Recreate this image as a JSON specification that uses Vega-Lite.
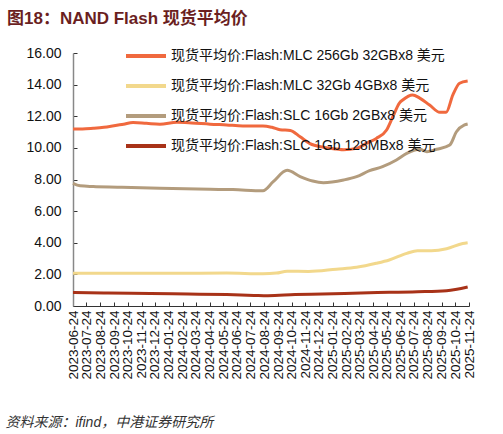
{
  "$schema": "https://vega.github.io/schema/vega-lite/v6.json",
  "width": 396,
  "height": 253,
  "autosize": {"type": "none"},
  "padding": {"left": 73, "top": 53, "right": 34, "bottom": 128},
  "background": "white",
  "config": {
    "view": {"stroke": null},
    "font": "Liberation Sans, Noto Sans CJK SC"
  },
  "title": {
    "text": "图18：NAND Flash 现货平均价",
    "anchor": "start",
    "frame": "group",
    "dx": -66,
    "dy": 17,
    "offset": 10,
    "baseline": "alphabetic",
    "fontSize": 17,
    "fontWeight": "bold",
    "color": "#6B1F1F",
    "font": "Liberation Sans, Noto Sans CJK SC"
  },
  "data": {"values": [
    {"date": "2023-06-24", "s": "现货平均价:Flash:MLC 256Gb 32GBx8 美元", "v": 11.2},
    {"date": "2023-07-15", "s": "现货平均价:Flash:MLC 256Gb 32GBx8 美元", "v": 11.2},
    {"date": "2023-08-08", "s": "现货平均价:Flash:MLC 256Gb 32GBx8 美元", "v": 11.24},
    {"date": "2023-09-01", "s": "现货平均价:Flash:MLC 256Gb 32GBx8 美元", "v": 11.3},
    {"date": "2023-09-20", "s": "现货平均价:Flash:MLC 256Gb 32GBx8 美元", "v": 11.38},
    {"date": "2023-10-15", "s": "现货平均价:Flash:MLC 256Gb 32GBx8 美元", "v": 11.5},
    {"date": "2023-11-05", "s": "现货平均价:Flash:MLC 256Gb 32GBx8 美元", "v": 11.6},
    {"date": "2023-12-05", "s": "现货平均价:Flash:MLC 256Gb 32GBx8 美元", "v": 11.55},
    {"date": "2024-01-04", "s": "现货平均价:Flash:MLC 256Gb 32GBx8 美元", "v": 11.5},
    {"date": "2024-02-11", "s": "现货平均价:Flash:MLC 256Gb 32GBx8 美元", "v": 11.62},
    {"date": "2024-03-15", "s": "现货平均价:Flash:MLC 256Gb 32GBx8 美元", "v": 11.58},
    {"date": "2024-04-25", "s": "现货平均价:Flash:MLC 256Gb 32GBx8 美元", "v": 11.5},
    {"date": "2024-06-01", "s": "现货平均价:Flash:MLC 256Gb 32GBx8 美元", "v": 11.45},
    {"date": "2024-07-07", "s": "现货平均价:Flash:MLC 256Gb 32GBx8 美元", "v": 11.39},
    {"date": "2024-08-21", "s": "现货平均价:Flash:MLC 256Gb 32GBx8 美元", "v": 11.39},
    {"date": "2024-09-10", "s": "现货平均价:Flash:MLC 256Gb 32GBx8 美元", "v": 11.3},
    {"date": "2024-09-28", "s": "现货平均价:Flash:MLC 256Gb 32GBx8 美元", "v": 11.15},
    {"date": "2024-10-21", "s": "现货平均价:Flash:MLC 256Gb 32GBx8 美元", "v": 11.1},
    {"date": "2024-11-12", "s": "现货平均价:Flash:MLC 256Gb 32GBx8 美元", "v": 10.7},
    {"date": "2024-12-04", "s": "现货平均价:Flash:MLC 256Gb 32GBx8 美元", "v": 10.27},
    {"date": "2025-01-03", "s": "现货平均价:Flash:MLC 256Gb 32GBx8 美元", "v": 10.04},
    {"date": "2025-02-01", "s": "现货平均价:Flash:MLC 256Gb 32GBx8 美元", "v": 9.93},
    {"date": "2025-02-17", "s": "现货平均价:Flash:MLC 256Gb 32GBx8 美元", "v": 9.88},
    {"date": "2025-03-18", "s": "现货平均价:Flash:MLC 256Gb 32GBx8 美元", "v": 9.97},
    {"date": "2025-04-10", "s": "现货平均价:Flash:MLC 256Gb 32GBx8 美元", "v": 10.3},
    {"date": "2025-05-01", "s": "现货平均价:Flash:MLC 256Gb 32GBx8 美元", "v": 10.6},
    {"date": "2025-05-24", "s": "现货平均价:Flash:MLC 256Gb 32GBx8 美元", "v": 11.13},
    {"date": "2025-06-07", "s": "现货平均价:Flash:MLC 256Gb 32GBx8 美元", "v": 11.97},
    {"date": "2025-06-22", "s": "现货平均价:Flash:MLC 256Gb 32GBx8 美元", "v": 12.85},
    {"date": "2025-06-29", "s": "现货平均价:Flash:MLC 256Gb 32GBx8 美元", "v": 13.03},
    {"date": "2025-07-21", "s": "现货平均价:Flash:MLC 256Gb 32GBx8 美元", "v": 13.35},
    {"date": "2025-08-06", "s": "现货平均价:Flash:MLC 256Gb 32GBx8 美元", "v": 13.15},
    {"date": "2025-08-28", "s": "现货平均价:Flash:MLC 256Gb 32GBx8 美元", "v": 12.71},
    {"date": "2025-09-20", "s": "现货平均价:Flash:MLC 256Gb 32GBx8 美元", "v": 12.25},
    {"date": "2025-10-04", "s": "现货平均价:Flash:MLC 256Gb 32GBx8 美元", "v": 12.25},
    {"date": "2025-10-19", "s": "现货平均价:Flash:MLC 256Gb 32GBx8 美元", "v": 13.35},
    {"date": "2025-11-03", "s": "现货平均价:Flash:MLC 256Gb 32GBx8 美元", "v": 14.09},
    {"date": "2025-11-21", "s": "现货平均价:Flash:MLC 256Gb 32GBx8 美元", "v": 14.23},

    {"date": "2023-06-24", "s": "现货平均价:Flash:MLC 32Gb 4GBx8 美元", "v": 2.07},
    {"date": "2023-10-01", "s": "现货平均价:Flash:MLC 32Gb 4GBx8 美元", "v": 2.07},
    {"date": "2024-02-01", "s": "现货平均价:Flash:MLC 32Gb 4GBx8 美元", "v": 2.07},
    {"date": "2024-06-01", "s": "现货平均价:Flash:MLC 32Gb 4GBx8 美元", "v": 2.08},
    {"date": "2024-08-21", "s": "现货平均价:Flash:MLC 32Gb 4GBx8 美元", "v": 2.04},
    {"date": "2024-09-20", "s": "现货平均价:Flash:MLC 32Gb 4GBx8 美元", "v": 2.08},
    {"date": "2024-10-14", "s": "现货平均价:Flash:MLC 32Gb 4GBx8 美元", "v": 2.2},
    {"date": "2024-12-01", "s": "现货平均价:Flash:MLC 32Gb 4GBx8 美元", "v": 2.18},
    {"date": "2025-02-01", "s": "现货平均价:Flash:MLC 32Gb 4GBx8 美元", "v": 2.33},
    {"date": "2025-03-18", "s": "现货平均价:Flash:MLC 32Gb 4GBx8 美元", "v": 2.45},
    {"date": "2025-05-01", "s": "现货平均价:Flash:MLC 32Gb 4GBx8 美元", "v": 2.7},
    {"date": "2025-05-30", "s": "现货平均价:Flash:MLC 32Gb 4GBx8 美元", "v": 2.91},
    {"date": "2025-07-08", "s": "现货平均价:Flash:MLC 32Gb 4GBx8 美元", "v": 3.33},
    {"date": "2025-08-01", "s": "现货平均价:Flash:MLC 32Gb 4GBx8 美元", "v": 3.5},
    {"date": "2025-09-01", "s": "现货平均价:Flash:MLC 32Gb 4GBx8 美元", "v": 3.5},
    {"date": "2025-10-05", "s": "现货平均价:Flash:MLC 32Gb 4GBx8 美元", "v": 3.62},
    {"date": "2025-11-10", "s": "现货平均价:Flash:MLC 32Gb 4GBx8 美元", "v": 3.95},
    {"date": "2025-11-21", "s": "现货平均价:Flash:MLC 32Gb 4GBx8 美元", "v": 4.0},

    {"date": "2023-06-24", "s": "现货平均价:Flash:SLC 16Gb 2GBx8 美元", "v": 7.76},
    {"date": "2023-07-10", "s": "现货平均价:Flash:SLC 16Gb 2GBx8 美元", "v": 7.6},
    {"date": "2023-08-08", "s": "现货平均价:Flash:SLC 16Gb 2GBx8 美元", "v": 7.55},
    {"date": "2023-10-01", "s": "现货平均价:Flash:SLC 16Gb 2GBx8 美元", "v": 7.51},
    {"date": "2024-01-04", "s": "现货平均价:Flash:SLC 16Gb 2GBx8 美元", "v": 7.44},
    {"date": "2024-04-25", "s": "现货平均价:Flash:SLC 16Gb 2GBx8 美元", "v": 7.38},
    {"date": "2024-06-15", "s": "现货平均价:Flash:SLC 16Gb 2GBx8 美元", "v": 7.36},
    {"date": "2024-08-21", "s": "现货平均价:Flash:SLC 16Gb 2GBx8 美元", "v": 7.29},
    {"date": "2024-09-13", "s": "现货平均价:Flash:SLC 16Gb 2GBx8 美元", "v": 7.86},
    {"date": "2024-10-14", "s": "现货平均价:Flash:SLC 16Gb 2GBx8 美元", "v": 8.58},
    {"date": "2024-11-12", "s": "现货平均价:Flash:SLC 16Gb 2GBx8 美元", "v": 8.18},
    {"date": "2024-12-10", "s": "现货平均价:Flash:SLC 16Gb 2GBx8 美元", "v": 7.9},
    {"date": "2025-01-03", "s": "现货平均价:Flash:SLC 16Gb 2GBx8 美元", "v": 7.8},
    {"date": "2025-02-17", "s": "现货平均价:Flash:SLC 16Gb 2GBx8 美元", "v": 7.97},
    {"date": "2025-03-18", "s": "现货平均价:Flash:SLC 16Gb 2GBx8 美元", "v": 8.18},
    {"date": "2025-04-16", "s": "现货平均价:Flash:SLC 16Gb 2GBx8 美元", "v": 8.56},
    {"date": "2025-05-15", "s": "现货平均价:Flash:SLC 16Gb 2GBx8 美元", "v": 8.81},
    {"date": "2025-06-15", "s": "现货平均价:Flash:SLC 16Gb 2GBx8 美元", "v": 9.23},
    {"date": "2025-07-08", "s": "现货平均价:Flash:SLC 16Gb 2GBx8 美元", "v": 9.65},
    {"date": "2025-08-06", "s": "现货平均价:Flash:SLC 16Gb 2GBx8 美元", "v": 9.91},
    {"date": "2025-08-22", "s": "现货平均价:Flash:SLC 16Gb 2GBx8 美元", "v": 9.76},
    {"date": "2025-09-13", "s": "现货平均价:Flash:SLC 16Gb 2GBx8 美元", "v": 9.91},
    {"date": "2025-10-12", "s": "现货平均价:Flash:SLC 16Gb 2GBx8 美元", "v": 10.18},
    {"date": "2025-10-27", "s": "现货平均价:Flash:SLC 16Gb 2GBx8 美元", "v": 11.02},
    {"date": "2025-11-14", "s": "现货平均价:Flash:SLC 16Gb 2GBx8 美元", "v": 11.45},
    {"date": "2025-11-21", "s": "现货平均价:Flash:SLC 16Gb 2GBx8 美元", "v": 11.51},

    {"date": "2023-06-24", "s": "现货平均价:Flash:SLC 1Gb 128MBx8 美元", "v": 0.86},
    {"date": "2023-09-01", "s": "现货平均价:Flash:SLC 1Gb 128MBx8 美元", "v": 0.82},
    {"date": "2023-11-01", "s": "现货平均价:Flash:SLC 1Gb 128MBx8 美元", "v": 0.8},
    {"date": "2024-02-01", "s": "现货平均价:Flash:SLC 1Gb 128MBx8 美元", "v": 0.78},
    {"date": "2024-04-01", "s": "现货平均价:Flash:SLC 1Gb 128MBx8 美元", "v": 0.75},
    {"date": "2024-06-01", "s": "现货平均价:Flash:SLC 1Gb 128MBx8 美元", "v": 0.72},
    {"date": "2024-08-01", "s": "现货平均价:Flash:SLC 1Gb 128MBx8 美元", "v": 0.67},
    {"date": "2024-09-01", "s": "现货平均价:Flash:SLC 1Gb 128MBx8 美元", "v": 0.65},
    {"date": "2024-11-01", "s": "现货平均价:Flash:SLC 1Gb 128MBx8 美元", "v": 0.72},
    {"date": "2025-01-01", "s": "现货平均价:Flash:SLC 1Gb 128MBx8 美元", "v": 0.76},
    {"date": "2025-04-15", "s": "现货平均价:Flash:SLC 1Gb 128MBx8 美元", "v": 0.84},
    {"date": "2025-08-01", "s": "现货平均价:Flash:SLC 1Gb 128MBx8 美元", "v": 0.9},
    {"date": "2025-10-05", "s": "现货平均价:Flash:SLC 1Gb 128MBx8 美元", "v": 0.97},
    {"date": "2025-11-21", "s": "现货平均价:Flash:SLC 1Gb 128MBx8 美元", "v": 1.2}
  ]},
  "mark": {"type": "line", "strokeWidth": 3, "interpolate": "monotone"},
  "encoding": {
    "x": {
      "field": "date", "type": "temporal",
      "scale": {"type": "utc", "domain": [{"year": 2023, "month": 6, "date": 24, "utc": true}, {"year": 2025, "month": 11, "date": 24, "utc": true}]},
      "axis": {
        "orient": "bottom",
        "title": "资料来源：ifind，中港证券研究所",
        "titleX": -68,
        "titleY": 120,
        "titleAlign": "left",
        "titleAnchor": "start",
        "titleBaseline": "alphabetic",
        "titleFont": "Liberation Sans, Noto Sans CJK SC",
        "titleFontSize": 14,
        "titleFontWeight": "normal",
        "titleFontStyle": "italic",
        "titleColor": "#333333",
        "grid": false,
        "values": [
          {"year": 2023, "month": 6, "date": 24, "utc": true},
          {"year": 2023, "month": 7, "date": 24, "utc": true},
          {"year": 2023, "month": 8, "date": 24, "utc": true},
          {"year": 2023, "month": 9, "date": 24, "utc": true},
          {"year": 2023, "month": 10, "date": 24, "utc": true},
          {"year": 2023, "month": 11, "date": 24, "utc": true},
          {"year": 2023, "month": 12, "date": 24, "utc": true},
          {"year": 2024, "month": 1, "date": 24, "utc": true},
          {"year": 2024, "month": 2, "date": 24, "utc": true},
          {"year": 2024, "month": 3, "date": 24, "utc": true},
          {"year": 2024, "month": 4, "date": 24, "utc": true},
          {"year": 2024, "month": 5, "date": 24, "utc": true},
          {"year": 2024, "month": 6, "date": 24, "utc": true},
          {"year": 2024, "month": 7, "date": 24, "utc": true},
          {"year": 2024, "month": 8, "date": 24, "utc": true},
          {"year": 2024, "month": 9, "date": 24, "utc": true},
          {"year": 2024, "month": 10, "date": 24, "utc": true},
          {"year": 2024, "month": 11, "date": 24, "utc": true},
          {"year": 2024, "month": 12, "date": 24, "utc": true},
          {"year": 2025, "month": 1, "date": 24, "utc": true},
          {"year": 2025, "month": 2, "date": 24, "utc": true},
          {"year": 2025, "month": 3, "date": 24, "utc": true},
          {"year": 2025, "month": 4, "date": 24, "utc": true},
          {"year": 2025, "month": 5, "date": 24, "utc": true},
          {"year": 2025, "month": 6, "date": 24, "utc": true},
          {"year": 2025, "month": 7, "date": 24, "utc": true},
          {"year": 2025, "month": 8, "date": 24, "utc": true},
          {"year": 2025, "month": 9, "date": 24, "utc": true},
          {"year": 2025, "month": 10, "date": 24, "utc": true},
          {"year": 2025, "month": 11, "date": 24, "utc": true}
        ],
        "format": "%Y-%m-%d",
        "labelAngle": 270,
        "labelAlign": "right",
        "labelBaseline": "middle",
        "labelPadding": 8,
        "labelFontSize": 13.5,
        "labelColor": "#111111",
        "labelFont": "Liberation Sans",
        "labelOverlap": false,
        "labelFlush": false,
        "labelBound": false,
        "tickSize": -4,
        "tickColor": "#333333",
        "domainColor": "#333333",
        "domainWidth": 1.2
      }
    },
    "y": {
      "field": "v", "type": "quantitative",
      "scale": {"domain": [0, 16], "nice": false},
      "axis": {
        "title": null,
        "grid": false,
        "values": [0, 2, 4, 6, 8, 10, 12, 14, 16],
        "format": ".2f",
        "labelFontSize": 14,
        "labelColor": "#111111",
        "labelFont": "Liberation Sans",
        "labelPadding": 16,
        "tickSize": -4,
        "tickColor": "#333333",
        "domainColor": "#888888",
        "domainWidth": 1.5
      }
    },
    "color": {
      "field": "s", "type": "nominal",
      "scale": {
        "domain": ["现货平均价:Flash:MLC 256Gb 32GBx8 美元", "现货平均价:Flash:MLC 32Gb 4GBx8 美元", "现货平均价:Flash:SLC 16Gb 2GBx8 美元", "现货平均价:Flash:SLC 1Gb 128MBx8 美元"],
        "range": ["#F0693E", "#F2D88C", "#B39C7D", "#A83218"]
      },
      "legend": {
        "title": null,
        "orient": "none",
        "legendX": 51,
        "legendY": -19,
        "padding": 0,
        "symbolType": "stroke",
        "symbolSize": 1600,
        "symbolStrokeWidth": 4,
        "labelFontSize": 14,
        "labelFont": "Liberation Sans, Noto Sans CJK SC",
        "labelColor": "#111111",
        "labelOffset": 3,
        "rowPadding": -20,
        "labelLimit": 400
      }
    }
  }
}
